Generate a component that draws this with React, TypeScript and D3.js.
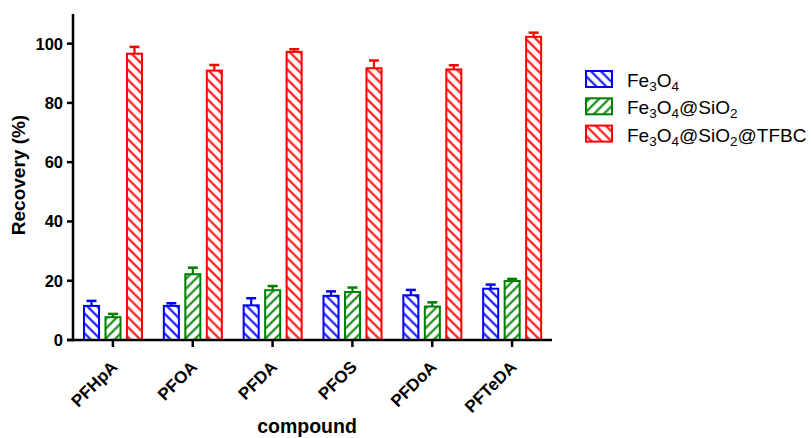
import React from 'react';
import * as d3 from 'd3';

const categories = ['PFHpA', 'PFOA', 'PFDA', 'PFOS', 'PFDoA', 'PFTeDA'];
const seriesKeys = ['fe3o4', 'fe3o4sio2', 'tfbc'];
const fe3o4 = [11.5, 11.5, 11.7, 14.9, 15.1, 17.3];
const fe3o4Err = [1.7, 0.9, 2.4, 1.5, 1.8, 1.4];
const fe3o4sio2 = [7.7, 22.2, 16.8, 16.2, 11.3, 19.9];
const fe3o4sio2Err = [1.1, 2.2, 1.4, 1.5, 1.4, 0.7];
const tfbc = [96.6, 90.9, 97.2, 91.7, 91.3, 102.3];
const tfbcErr = [2.3, 1.9, 0.9, 2.6, 1.4, 1.4];
const yTicks = [0, 20, 40, 60, 80, 100];

const seriesValues = [fe3o4, fe3o4sio2, tfbc];
const seriesErrors = [fe3o4Err, fe3o4sio2Err, tfbcErr];
const colors = ['#0000ff', '#008000', '#ff0000'];
const angles = [-45, 45, -45];

const font = '"Liberation Sans", Arial, sans-serif';

// legend label pieces: [text, isSubscript]
const legendLabels: [string, boolean][][] = [
  [['Fe', false], ['3', true], ['O', false], ['4', true]],
  [['Fe', false], ['3', true], ['O', false], ['4', true], ['@SiO', false], ['2', true]],
  [['Fe', false], ['3', true], ['O', false], ['4', true], ['@SiO', false], ['2', true], ['@TFBC', false]],
];

export default function App() {
  const x = d3.scaleBand().domain(categories).range([73, 552]);
  const xSub = d3.scaleBand().domain(seriesKeys).range([11, 69]).paddingInner(0.3);
  const y = d3.scaleLinear().domain([0, 110]).range([340, 14]);
  const bw = xSub.bandwidth();

  return (
    <svg width={811} height={438} style={{ position: 'absolute', left: 0, top: 0, background: '#fff' }}>
      <defs>
        {seriesKeys.map((k, i) => (
          <pattern key={k} id={'hatch-' + k} patternUnits="userSpaceOnUse" width={7} height={7}
            patternTransform={`rotate(${angles[i]})`}>
            <rect width={7} height={7} fill="#fff" />
            <line x1={3.5} y1={0} x2={3.5} y2={7} stroke={colors[i]} strokeWidth={2} />
          </pattern>
        ))}
      </defs>

      {/* bars */}
      {categories.map((c, ci) => (
        <g key={c} transform={`translate(${x(c)},0)`}>
          {seriesKeys.map((k, si) => {
            const v = seriesValues[si][ci];
            const e = seriesErrors[si][ci];
            const bx = xSub(k) as number;
            const cx = bx + bw / 2;
            return (
              <g key={k}>
                <line x1={cx} x2={cx} y1={y(v)} y2={y(v + e)} stroke={colors[si]} strokeWidth={2.2} />
                <line x1={cx - 5} x2={cx + 5} y1={y(v + e)} y2={y(v + e)} stroke={colors[si]} strokeWidth={2.5} />
                <rect x={bx} y={y(v)} width={bw} height={y(0) - y(v)}
                  fill={`url(#hatch-${k})`} stroke={colors[si]} strokeWidth={2} />
              </g>
            );
          })}
        </g>
      ))}

      {/* y axis */}
      <line x1={73} x2={73} y1={y(110)} y2={y(0) + 1.2} stroke="#000" strokeWidth={2.5} />
      {yTicks.map((t) => (
        <g key={t}>
          <line x1={67} x2={73} y1={y(t)} y2={y(t)} stroke="#000" strokeWidth={2.5} />
          <text x={63} y={y(t)} dy="0.36em" textAnchor="end" fontFamily={font} fontWeight="bold" fontSize={16.5}>{t}</text>
        </g>
      ))}
      <text transform={`translate(25,175) rotate(-90)`} textAnchor="middle"
        fontFamily={font} fontWeight="bold" fontSize={19}>Recovery (%)</text>

      {/* x axis */}
      <line x1={67} x2={552} y1={y(0)} y2={y(0)} stroke="#000" strokeWidth={2.5} />
      {categories.map((c) => {
        const cx = (x(c) as number) + x.bandwidth() / 2;
        return (
          <g key={c}>
            <line x1={cx} x2={cx} y1={y(0)} y2={y(0) + 7} stroke="#000" strokeWidth={2.5} />
            <text transform={`translate(${cx + 5.5},${y(0) + 28}) rotate(-45)`} textAnchor="end"
              fontFamily={font} fontWeight="bold" fontSize={17}>{c}</text>
          </g>
        );
      })}
      <text x={307} y={433} textAnchor="middle" fontFamily={font} fontWeight="bold" fontSize={19.5}>compound</text>

      {/* legend */}
      {seriesKeys.map((k, i) => {
        const ly = 71 + i * 27.3;
        return (
          <g key={k}>
            <rect x={586} y={ly} width={26} height={16} fill={`url(#hatch-${k})`} stroke={colors[i]} strokeWidth={2} />
            <text x={627} y={ly + 16} fontFamily={font} fontSize={19}>
              {legendLabels[i].map(([s, sub], j) => {
                const prevSub = j > 0 && legendLabels[i][j - 1][1];
                const dy = sub ? 4 : prevSub ? -4 : 0;
                return (
                  <tspan key={j} dy={dy} fontSize={sub ? 13.5 : 19}>{s}</tspan>
                );
              })}
            </text>
          </g>
        );
      })}
    </svg>
  );
}
